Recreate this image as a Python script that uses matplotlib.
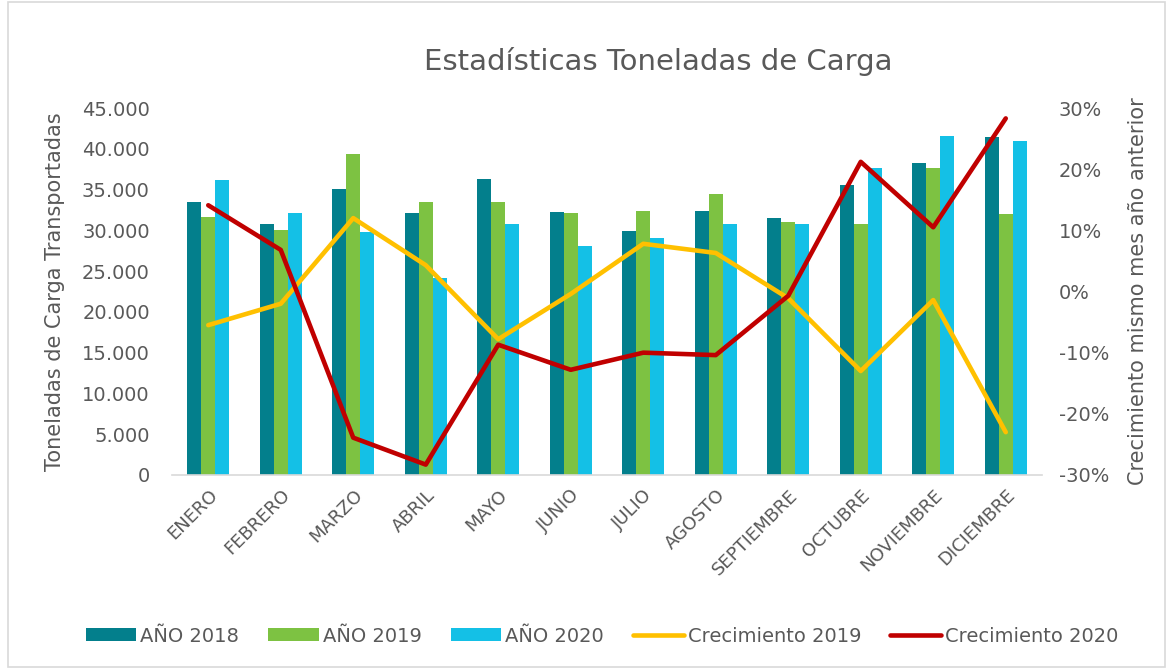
import matplotlib
matplotlib.use("Agg")
import matplotlib.pyplot as plt
import numpy as np
from matplotlib.patches import Rectangle
from matplotlib.ticker import FuncFormatter

months = ["ENERO", "FEBRERO", "MARZO", "ABRIL", "MAYO", "JUNIO", "JULIO",
          "AGOSTO", "SEPTIEMBRE", "OCTUBRE", "NOVIEMBRE", "DICIEMBRE"]
anio_2018 = [33500, 30800, 35100, 32100, 36300, 32200, 29900, 32400, 31500, 35600, 38300, 41400]
anio_2019 = [31600, 30000, 39400, 33500, 33500, 32100, 32400, 34500, 31000, 30800, 37600, 32000]
anio_2020 = [36200, 32100, 29800, 24200, 30800, 28100, 29100, 30800, 30800, 37600, 41600, 41000]
crec_2019 = [-5.5, -2.0, 12.0, 4.3, -7.8, -0.4, 7.8, 6.3, -1.1, -13.0, -1.4, -23.0]
crec_2020 = [14.1, 6.8, -23.9, -28.3, -8.7, -12.8, -10.0, -10.4, -0.7, 21.2, 10.5, 28.3]

c18, c19, c20 = "#037F8C", "#7DC242", "#14C0E6"
cy, cr = "#FFC000", "#C00000"
gray = "#595959"

fig = plt.figure(figsize=(11.72, 6.69), dpi=100)
fig.patches.append(Rectangle((8/1172, 2/669), 1157/1172, 665/669, transform=fig.transFigure,
                             fill=False, edgecolor="#D9D9D9", linewidth=1.2))
ax = fig.add_axes([172/1172, 1 - 475/669, 870/1172, 367/669])
x = np.arange(len(months))
w = 0.195
ax.bar(x - w, anio_2018, w, color=c18, label="AÑO 2018")
ax.bar(x, anio_2019, w, color=c19, label="AÑO 2019")
ax.bar(x + w, anio_2020, w, color=c20, label="AÑO 2020")
ax.set_xlim(-0.5, len(months) - 0.5)
ax.set_ylim(0, 45000)
ax.set_yticks(np.arange(0, 45001, 5000))
ax.yaxis.set_major_formatter(FuncFormatter(lambda v, p: f"{int(v):,}".replace(",", ".")))
ax.set_xticks(x)
ax.set_xticklabels(months, rotation=45, ha="right", rotation_mode="anchor")
for s in ["top", "right", "left"]:
    ax.spines[s].set_visible(False)
ax.spines["bottom"].set_color("#D9D9D9")
ax.spines["bottom"].set_linewidth(1.2)
ax.tick_params(axis="both", length=0, colors=gray)
ax.tick_params(axis="x", pad=8, labelsize=13)
ax.tick_params(axis="y", pad=16, labelsize=14)
ax.set_ylabel("Toneladas de Carga Transportadas", fontsize=15, color=gray, labelpad=12)

ax2 = ax.twinx()
ax2.plot(x, crec_2019, color=cy, linewidth=3.3, label="Crecimiento 2019", solid_capstyle="round")
ax2.plot(x, crec_2020, color=cr, linewidth=3.3, label="Crecimiento 2020", solid_capstyle="round")
ax2.set_ylim(-30, 30)
ax2.set_yticks(np.arange(-30, 31, 10))
ax2.yaxis.set_major_formatter(FuncFormatter(lambda v, p: f"{int(v)}%"))
for s in ["top", "right", "left", "bottom"]:
    ax2.spines[s].set_visible(False)
ax2.tick_params(axis="y", length=0, colors=gray, labelsize=14, pad=12)
ax2.set_ylabel("Crecimiento mismo mes año anterior", fontsize=15, color=gray, labelpad=14)

fig.text(658/1172, 1 - 62/669, "Estadísticas Toneladas de Carga", ha="center", va="center",
         fontsize=21, color=gray)

h1, l1 = ax.get_legend_handles_labels()
h2, l2 = ax2.get_legend_handles_labels()
fig.legend(h1 + h2, l1 + l2, loc="center", bbox_to_anchor=(602/1172, 1 - 636/669), ncol=5,
           frameon=False, fontsize=14, labelcolor=gray, handlelength=2.6, handleheight=0.6,
           handletextpad=0.2, columnspacing=1.5)

fig.savefig("out.png", dpi=100)
